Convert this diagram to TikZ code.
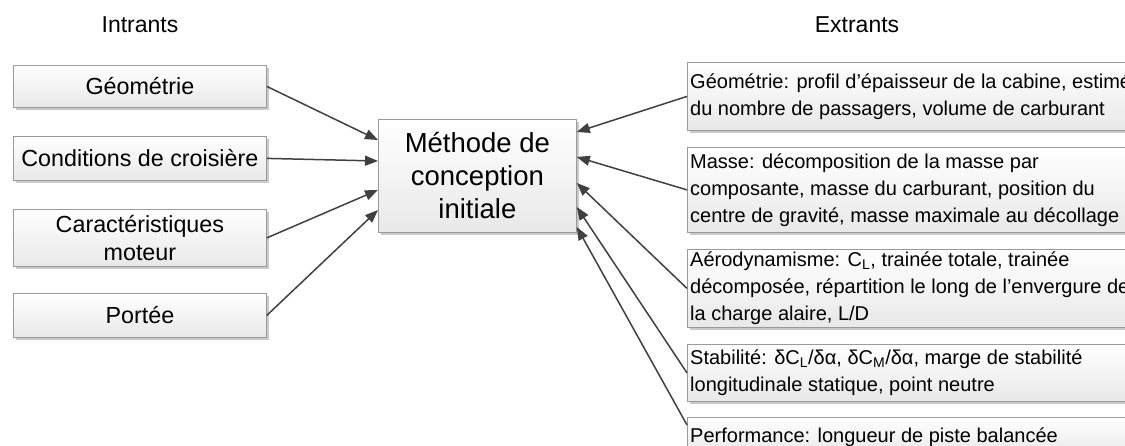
\documentclass[tikz,border=0pt]{standalone}
\usepackage{fontspec}
\setmainfont{Liberation Sans}
\usetikzlibrary{arrows.meta,shadows,calc}
\definecolor{bord}{HTML}{9A9A9A}
\definecolor{arr}{HTML}{404040}
\definecolor{shad}{HTML}{C4C4C4}
\tikzset{
  boxbase/.style={draw=bord, line width=0.8pt, top color=white, bottom color=black!9,
    drop shadow={shadow xshift=2.5pt, shadow yshift=-2.5pt, fill=shad, opacity=0.9},
    inner sep=2pt, anchor=north west},
  lbox/.style={boxbase, minimum width=253pt, align=center,
    font=\fontsize{23.3}{28}\selectfont},
  mbox/.style={boxbase, minimum width=198pt, minimum height=113pt, align=center,
    font=\fontsize{27.5}{33}\selectfont},
  rbox/.style={boxbase, minimum width=455pt},
  rtext/.style={anchor=west, align=left, inner sep=0pt,
    font=\fontsize{20}{27}\selectfont},
  hdr/.style={font=\fontsize{23}{27}\selectfont, inner sep=0pt},
  conn/.style={draw=arr, line width=1.5pt, -{Triangle[length=13pt,width=10pt]}}
}
\begin{document}
\begin{tikzpicture}[x=1pt,y=-1pt]
\useasboundingbox (0,0) rectangle (1125,446);
\clip (0,0) rectangle (1125,446);
% headers
\node[hdr] (hin) at (140,25) {Intrants};
\node[hdr] (hout) at (857,25) {Extrants};
% inputs
\node[lbox, minimum height=42pt] (g) at (13,65) {Géométrie};
\node[lbox, minimum height=44pt] (cc) at (13,136) {Conditions de croisière};
\node[lbox, minimum height=57pt] (cm) at (13,209) {Caractéristiques\\moteur};
\node[lbox, minimum height=44pt] (p) at (13,293) {Portée};
% centre
\node[mbox] (m) at (378,119) {Méthode de\\conception\\initiale};
% outputs
\node[rbox, minimum height=68pt] (o1) at (687,62) {};
\node[rtext] (t1) at ($(o1.west)+(3,0)$) {Géométrie: profil d’épaisseur de la cabine, estimé\\du nombre de passagers, volume de carburant};
\node[rbox, minimum height=85pt] (o2) at (687,147) {};
\node[rtext] (t2) at ($(o2.west)+(3,0)$) {Masse: décomposition de la masse par\\composante, masse du carburant, position du\\centre de gravité, masse maximale au décollage};
\node[rbox, minimum height=78pt] (o3) at (687,249) {};
\node[rtext] (t3) at ($(o3.west)+(3,0)$) {Aérodynamisme: C\textsubscript{L}, trainée totale, trainée\\décomposée, répartition le long de l’envergure de\\la charge alaire, L/D};
\node[rbox, minimum height=57pt] (o4) at (687,344) {};
\node[rtext] (t4) at ($(o4.west)+(3,0)$) {Stabilité: δC\textsubscript{L}/δα, δC\textsubscript{M}/δα, marge de stabilité\\longitudinale statique, point neutre};
\node[rbox, minimum height=40pt] (o5) at (687,417) {};
\node[rtext] (t5) at ($(o5.west)+(3,0)$) {Performance: longueur de piste balancée};
% connection points on centre box
\coordinate (mi1) at ($(m.north west)+(0,21)$);
\coordinate (mi2) at ($(m.north west)+(0,42)$);
\coordinate (mi3) at ($(m.north west)+(0,71)$);
\coordinate (mi4) at ($(m.north west)+(0,91)$);
\coordinate (mo1) at ($(m.north east)+(0,13)$);
\coordinate (mo2) at ($(m.north east)+(0,38)$);
\coordinate (mo3) at ($(m.north east)+(0,64)$);
\coordinate (mo4) at ($(m.north east)+(0,88)$);
\coordinate (mo5) at ($(m.north east)+(0,108)$);
\coordinate (o5c) at ($(o5.north west)+(0,8)$);
% connectors
\draw[conn] (g.east) -- (mi1);
\draw[conn] (cc.east) -- (mi2);
\draw[conn] (cm.east) -- (mi3);
\draw[conn] (p.east) -- (mi4);
\draw[conn] (o1.west) -- (mo1);
\draw[conn] (o2.west) -- (mo2);
\draw[conn] (o3.west) -- (mo3);
\draw[conn] (o4.west) -- (mo4);
\draw[conn] (o5c) -- (mo5);
\end{tikzpicture}
\end{document}
